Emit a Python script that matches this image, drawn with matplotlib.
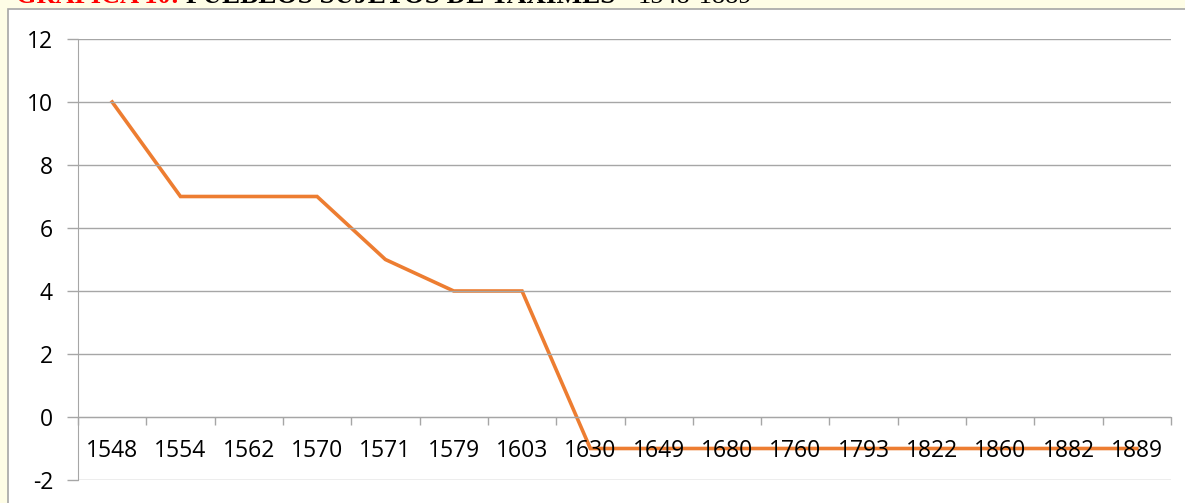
import numpy as np
import matplotlib.pyplot as plt
from matplotlib.patches import Rectangle

# datos de la grafica
years = ['1548', '1554', '1562', '1570', '1571', '1579', '1603', '1630',
         '1649', '1680', '1760', '1793', '1822', '1860', '1882', '1889']
values = [10, 7, 7, 7, 5, 4, 4, -1, -1, -1, -1, -1, -1, -1, -1, -1]
y_ticks = [-2, 0, 2, 4, 6, 8, 10, 12]

W, H = 1185, 503
fig = plt.figure(figsize=(W / 100, H / 100), dpi=100, facecolor='#fefde6')

# recuadro blanco del grafico
fig.patches.append(Rectangle((8 / W, -0.01), 1, 1 - 9 / H + 0.01,
                             transform=fig.transFigure, facecolor='white',
                             edgecolor='#a6a6a6', linewidth=1.2, zorder=-5))

# titulo (cortado arriba, como en el original)
fig.text(16 / W, 1 - 3 / H, 'GRÁFICA 10:', color='#ff0000', fontsize=19,
         fontweight='bold', family='Liberation Serif', va='baseline')
fig.text(186 / W, 1 - 3 / H, 'PUEBLOS SUJETOS DE TAXIMES', color='black',
         fontsize=19.5, fontweight='bold', family='Liberation Serif', va='baseline')
fig.text(638 / W, 1 - 3 / H, '1548-1889', color='black', fontsize=19,
         family='Liberation Serif', va='baseline')

ax = fig.add_axes([78 / W, 1 - 480 / H, 1093 / W, 441 / H])
ax.set_facecolor('none')
# el eje horizontal cruza en 0 (antes de fijar las etiquetas)
ax.spines['bottom'].set_position(('data', 0))

x = np.arange(len(years))
ax.plot(x, values, color='#ed7d31', linewidth=2.6, solid_joinstyle='miter',
        zorder=1.2)

gray = '#a6a6a6'
ax.set_xlim(-0.5, len(years) - 0.5)
ax.set_ylim(-2, 12)
ax.set_yticks(y_ticks)
ax.set_yticklabels([str(v) for v in y_ticks], fontsize=16.5, family='Open Sans')
ax.grid(axis='y', color=gray, linewidth=1.0)
ax.tick_params(axis='y', length=8, color=gray, width=1.0, pad=10)

ax.set_xticks(x)
ax.set_xticklabels(years, fontsize=16.5, family='Open Sans')
ax.set_xticks(np.arange(len(years) + 1) - 0.5, minor=True)
ax.tick_params(axis='x', which='major', length=0, pad=16)
ax.tick_params(axis='x', which='minor', length=6, color=gray, width=1.0)

ax.spines['bottom'].set_color(gray)
ax.spines['left'].set_color(gray)
ax.spines['top'].set_visible(False)
ax.spines['right'].set_visible(False)

fig.savefig('out.png', dpi=100, facecolor=fig.get_facecolor())
